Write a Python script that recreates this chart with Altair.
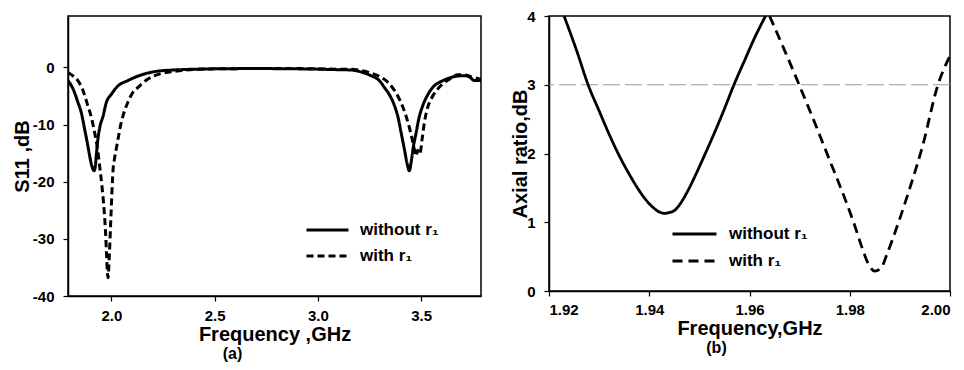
import altair as alt
import pandas as pd

FONT = "Liberation Sans"
series_labels = ["without r₁", "with r₁"]

# Panel (a): S11 vs frequency
fa_wo = [1.79, 1.815, 1.838, 1.855, 1.870, 1.885, 1.895, 1.905, 1.912, 1.916, 1.921, 1.928,
         1.935, 1.945, 1.960, 1.975, 2.000, 2.030, 2.080, 2.130, 2.207, 2.300, 2.500, 2.700,
         2.900, 3.000, 3.100, 3.161, 3.210, 3.258, 3.300, 3.322, 3.350, 3.371, 3.390, 3.403,
         3.420, 3.432, 3.443, 3.452, 3.462, 3.476, 3.490, 3.508, 3.535, 3.564, 3.600, 3.645,
         3.680, 3.710, 3.735, 3.758, 3.790]
s11_wo = [-2.3, -3.8, -6.1, -8.0, -10.7, -13.5, -15.5, -17.2, -17.9, -18.1, -17.6, -15.0,
          -12.5, -10.3, -8.5, -6.2, -4.7, -3.3, -2.3, -1.5, -0.75, -0.45, -0.25, -0.2,
          -0.25, -0.3, -0.4, -0.45, -0.8, -1.45, -2.4, -3.5, -5.0, -6.7, -9.0, -11.4,
          -14.5, -16.8, -18.1, -16.5, -14.0, -11.4, -8.8, -6.7, -4.6, -3.2, -2.4, -1.75,
          -1.5, -1.45, -1.7, -2.3, -2.3]

fa_w = [1.79, 1.815, 1.838, 1.860, 1.886, 1.905, 1.919, 1.932, 1.943, 1.955, 1.965, 1.972,
        1.977, 1.980, 1.984, 1.990, 1.998, 2.008, 2.015, 2.024, 2.035, 2.048, 2.062, 2.080,
        2.100, 2.129, 2.170, 2.210, 2.300, 2.500, 2.700, 2.900, 3.000, 3.100, 3.161, 3.210,
        3.258, 3.300, 3.339, 3.365, 3.387, 3.410, 3.427, 3.445, 3.460, 3.470, 3.476, 3.483,
        3.490, 3.496, 3.505, 3.516, 3.530, 3.549, 3.580, 3.613, 3.645, 3.678, 3.710, 3.742,
        3.770, 3.790]
s11_w = [-0.9, -1.5, -2.3, -3.8, -6.7, -9.0, -11.4, -14.0, -17.2, -21.0, -25.0, -29.0,
         -33.0, -35.5, -36.8, -33.0, -26.0, -18.0, -16.0, -14.2, -12.0, -9.6, -7.8, -6.1,
         -4.6, -3.5, -2.2, -1.45, -0.7, -0.25, -0.2, -0.2, -0.25, -0.3, -0.3, -0.55,
         -1.0, -1.6, -2.6, -3.7, -5.0, -6.8, -8.5, -10.8, -13.1, -14.8, -15.5, -14.5,
         -15.2, -14.9, -12.5, -9.6, -7.2, -5.5, -3.8, -2.6, -1.9, -1.3, -1.3, -1.6,
         -1.9, -2.1]

# Panel (b): axial ratio vs frequency
fb_wo = [1.9230, 1.9255, 1.9278, 1.9300, 1.9320, 1.9340, 1.9360, 1.9380, 1.9395, 1.9410,
         1.9420, 1.9430, 1.9440, 1.9450, 1.9460, 1.9475, 1.9490, 1.9510, 1.9530, 1.9550,
         1.9569, 1.9590, 1.9610, 1.9632]
ar_wo = [4.00, 3.50, 3.00, 2.62, 2.28, 1.97, 1.70, 1.46, 1.31, 1.20,
         1.15, 1.13, 1.14, 1.17, 1.25, 1.43, 1.65, 1.97, 2.30, 2.65,
         3.00, 3.35, 3.68, 4.00]

fb_w = [1.9640, 1.9670, 1.9699, 1.9730, 1.9760, 1.9790, 1.9810, 1.9825, 1.9838, 1.9850,
        1.9862, 1.9875, 1.9895, 1.9920, 1.9945, 1.9976, 2.0000]
ar_w = [4.00, 3.50, 3.00, 2.45, 1.90, 1.35, 0.95, 0.62, 0.38, 0.29,
        0.33, 0.55, 0.95, 1.50, 2.10, 3.00, 3.42]

ref_level = [3]

df_a = pd.concat([
    pd.DataFrame({"f": fa_wo, "v": s11_wo, "series": series_labels[0]}),
    pd.DataFrame({"f": fa_w, "v": s11_w, "series": series_labels[1]}),
])
df_b = pd.concat([
    pd.DataFrame({"f": fb_wo, "v": ar_wo, "series": series_labels[0]}),
    pd.DataFrame({"f": fb_w, "v": ar_w, "series": series_labels[1]}),
])
df_ref = pd.DataFrame({"v": ref_level})

axis_common = dict(
    labelFont=FONT, labelFontWeight="bold", labelFontSize=15, labelColor="black",
    titleFont=FONT, titleFontWeight="bold", titleFontSize=20, titleColor="black",
    domainColor="black", domainWidth=1.5, tickColor="black", tickSize=5, tickWidth=1.2,
    grid=False,
)

# wide horizontal line symbol (twice the nominal symbol width)
LINE_SYMBOL = "M-2,0H2"


def legend(x, y, size, row_pad, label_off):
    return alt.Legend(
        orient="none", legendX=x, legendY=y, title=None,
        symbolType=LINE_SYMBOL, symbolSize=size, symbolStrokeWidth=3,
        symbolStrokeColor="black", symbolFillColor="transparent",
        labelFont=FONT, labelFontWeight="bold", labelFontSize=17, labelColor="black",
        labelOffset=label_off, rowPadding=row_pad,
    )


W_A, H_A = 413, 280
W_B, H_B = 401, 275

line_a = alt.Chart(df_a).mark_line(color="black", strokeWidth=3, clip=True, interpolate="monotone").encode(
    x=alt.X("f:Q", scale=alt.Scale(domain=[1.79, 3.79], nice=False, zero=False),
            axis=alt.Axis(values=[2.0, 2.5, 3.0, 3.5], format=".1f", title="Frequency ,GHz",
                          labelPadding=7, titlePadding=1, **axis_common)),
    y=alt.Y("v:Q", scale=alt.Scale(domain=[-40, 9], nice=False, zero=False),
            axis=alt.Axis(values=[-40, -30, -20, -10, 0], labelExpr="'' + datum.value", title="S11 ,dB",
                          labelPadding=9, titlePadding=0, **axis_common)),
    strokeDash=alt.StrokeDash("series:N", scale=alt.Scale(domain=series_labels, range=[[1, 0], [7, 4]]),
                              legend=legend(247.5, 202, 441, 6, 20.5)),
    detail="series:N",
)

chart_a = line_a.properties(
    width=W_A, height=H_A,
    title=alt.TitleParams("(a)", orient="bottom", anchor="middle", frame="group", dx=-42, offset=2,
                          font=FONT, fontSize=16, fontWeight="bold", color="black"),
)

ref_b = alt.Chart(df_ref).mark_rule(color="#999999", strokeWidth=1.2, strokeDash=[17, 5]).encode(
    y=alt.Y("v:Q"),
)

line_b = alt.Chart(df_b).mark_line(color="black", strokeWidth=2.8, clip=True, interpolate="monotone").encode(
    x=alt.X("f:Q", scale=alt.Scale(domain=[1.92, 2.0], nice=False, zero=False),
            axis=alt.Axis(values=[1.92, 1.94, 1.96, 1.98, 2.00], format=".2f", title="Frequency,GHz",
                          labelPadding=6, titlePadding=1, **axis_common)),
    y=alt.Y("v:Q", scale=alt.Scale(domain=[0, 4], nice=False, zero=False),
            axis=alt.Axis(values=[0, 1, 2, 3, 4], labelExpr="'' + datum.value", title="Axial ratio,dB",
                          labelPadding=9, titlePadding=-4, **axis_common)),
    strokeDash=alt.StrokeDash("series:N", scale=alt.Scale(domain=series_labels, range=[[1, 0], [10, 6]]),
                              legend=legend(133, 205.5, 484, 6, 22)),
    detail="series:N",
)

chart_b = alt.layer(ref_b, line_b).properties(
    width=W_B, height=H_B,
    title=alt.TitleParams("(b)", orient="bottom", anchor="middle", frame="group", dx=-33, offset=2,
                          font=FONT, fontSize=16, fontWeight="bold", color="black"),
)

chart = alt.hconcat(chart_a, chart_b, spacing=68, bounds="flush").resolve_scale(
    strokeDash="independent"
).resolve_legend(strokeDash="independent").properties(
    padding={"left": 11, "top": 8, "right": 5, "bottom": 5},
    background="white",
).configure_view(stroke="black", strokeWidth=1.5)

chart.save("out.html", embed_options={"renderer": "svg", "actions": False})
